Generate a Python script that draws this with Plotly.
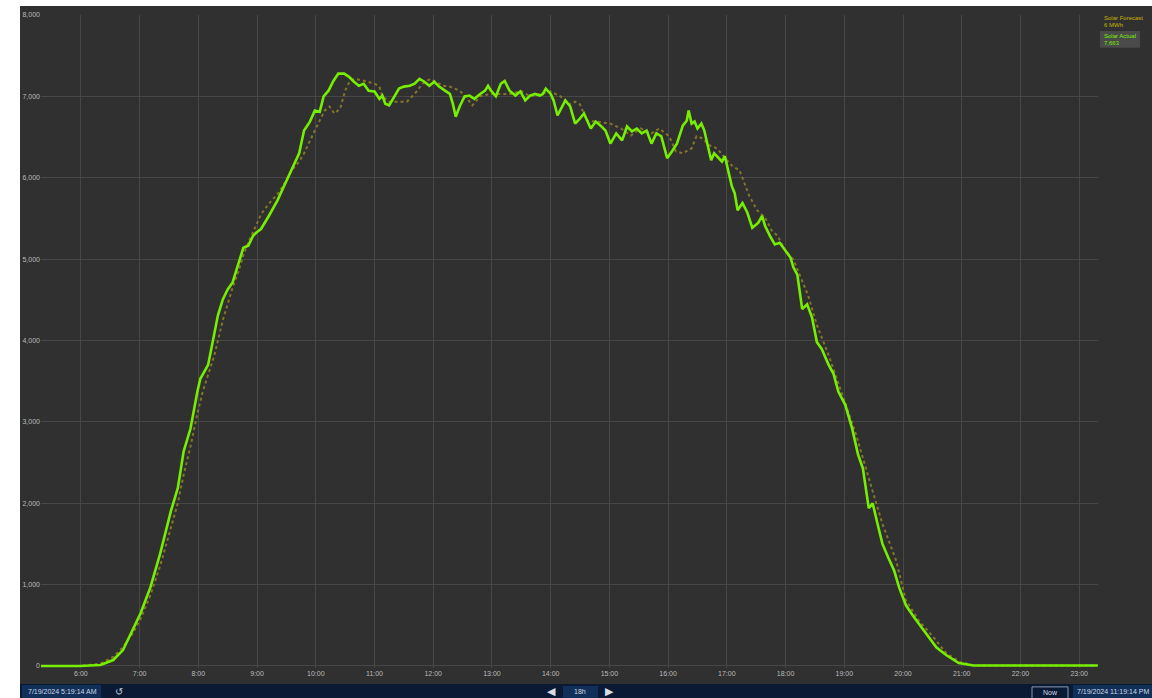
import plotly.graph_objects as go

DAY = "2024-07-19"

# Solar actual (MW)
actual_times = [
    "05:19", "05:59", "06:20", "06:33", "06:43", "06:53", "07:01", "07:11", "07:21", "07:32",
    "07:39", "07:45", "07:52", "07:59", "08:02", "08:10", "08:16", "08:20", "08:25", "08:30",
    "08:35", "08:41", "08:46", "08:51", "08:56", "08:59", "09:04", "09:12", "09:21", "09:29",
    "09:36", "09:43", "09:48", "09:54", "09:59", "10:04", "10:08", "10:13", "10:18", "10:23",
    "10:29", "10:34", "10:39", "10:44", "10:49", "10:54", "11:00", "11:05", "11:08", "11:11",
    "11:15", "11:20", "11:25", "11:30", "11:36", "11:41", "11:46", "11:51", "11:56", "12:01",
    "12:06", "12:12", "12:17", "12:20", "12:23", "12:27", "12:32", "12:37", "12:42", "12:48",
    "12:53", "12:56", "12:59", "13:04", "13:09", "13:13", "13:18", "13:24", "13:29", "13:34",
    "13:39", "13:44", "13:49", "13:52", "13:55", "14:00", "14:03", "14:07", "14:12", "14:15",
    "14:20", "14:25", "14:30", "14:34", "14:41", "14:46", "14:51", "14:56", "15:01", "15:07",
    "15:13", "15:18", "15:23", "15:28", "15:33", "15:38", "15:43", "15:48", "15:53", "15:59",
    "16:04", "16:09", "16:15", "16:19", "16:21", "16:24", "16:27", "16:30", "16:34", "16:37",
    "16:40", "16:44", "16:47", "16:50", "16:55", "16:58", "17:01", "17:05", "17:08", "17:11",
    "17:16", "17:21", "17:26", "17:32", "17:36", "17:39", "17:44", "17:49", "17:54", "17:59",
    "18:05", "18:08", "18:12", "18:17", "18:22", "18:27", "18:32", "18:37", "18:44", "18:49",
    "18:54", "19:01", "19:08", "19:14", "19:19", "19:25", "19:29", "19:34", "19:39", "19:45",
    "19:51", "19:56", "20:03", "20:10", "20:16", "20:23", "20:34", "20:44", "20:57", "21:12",
    "23:19",
]
actual_mw = [
    0, 0, 12, 73, 195, 440, 647, 965, 1380, 1905,
    2185, 2637, 2918, 3370, 3529, 3700, 4066, 4310, 4505, 4628,
    4713, 4957, 5140, 5165, 5287, 5323, 5370, 5530, 5725, 5935,
    6120, 6300, 6580, 6690, 6825, 6810, 7000, 7070, 7190, 7280,
    7280, 7240, 7180, 7130, 7155, 7070, 7060, 6970, 7010, 6910,
    6890, 7000, 7095, 7120, 7130, 7155, 7215, 7180, 7130, 7180,
    7120, 7070, 7030, 6910, 6750, 6875, 7000, 7010, 6970, 7030,
    7070, 7130, 7070, 7000, 7155, 7190, 7070, 7010, 7060, 6950,
    7010, 7030, 7010, 7030, 7095, 7030, 6950, 6765, 6875, 6950,
    6875, 6665, 6730, 6790, 6605, 6690, 6640, 6580, 6420, 6545,
    6460, 6630, 6570, 6605, 6545, 6580, 6420, 6545, 6510, 6240,
    6325, 6420, 6640, 6700, 6825, 6665, 6690, 6605, 6665, 6580,
    6420, 6215, 6300, 6265, 6200, 6265, 6090, 5900, 5810, 5600,
    5690, 5570, 5385, 5445, 5530, 5410, 5285, 5180, 5200, 5115,
    5020, 4900, 4810, 4385, 4445, 4285, 3980, 3895, 3700, 3590,
    3370, 3210, 2920, 2600, 2430, 1940, 2000, 1745, 1500, 1330,
    1170, 965, 745, 620, 525, 400, 230, 135, 35, 5,
    5,
]

# Solar forecast (MW)
forecast_times = [
    "05:19", "06:00", "06:20", "06:33", "06:43", "06:53", "07:01", "07:11", "07:21", "07:32",
    "07:39", "07:45", "07:52", "07:59", "08:04", "08:10", "08:16", "08:20", "08:25", "08:30",
    "08:35", "08:41", "08:46", "08:51", "08:56", "09:04", "09:12", "09:21", "09:29", "09:36",
    "09:43", "09:48", "09:59", "10:09", "10:14", "10:19", "10:25", "10:30", "10:35", "10:40",
    "10:50", "11:00", "11:05", "11:08", "11:15", "11:25", "11:33", "11:41", "11:49", "11:57",
    "12:02", "12:10", "12:17", "12:27", "12:33", "12:40", "12:48", "12:58", "13:11", "13:21",
    "13:29", "13:39", "13:49", "14:00", "14:10", "14:19", "14:25", "14:30", "14:37", "14:47",
    "15:01", "15:12", "15:22", "15:32", "15:43", "15:51", "16:01", "16:08", "16:15", "16:24",
    "16:29", "16:35", "16:42", "16:50", "17:00", "17:06", "17:13", "17:18", "17:23", "17:31",
    "17:39", "17:46", "17:52", "17:59", "18:08", "18:23", "18:32", "18:44", "18:58", "19:12",
    "19:25", "19:39", "19:53", "20:03", "20:16", "20:31", "20:44", "20:58", "21:12", "23:19",
]
forecast_mw = [
    0, 0, 30, 110, 230, 400, 580, 870, 1230, 1700,
    2000, 2350, 2700, 3100, 3350, 3580, 3800, 4000, 4250, 4450,
    4650, 4850, 5050, 5200, 5330, 5550, 5680, 5800, 5950, 6100,
    6200, 6300, 6580, 6825, 6875, 6790, 6850, 7070, 7190, 7215,
    7190, 7155, 7120, 7000, 6935, 6935, 6935, 7030, 7155, 7215,
    7180, 7130, 7120, 7070, 7000, 6890, 7000, 7030, 7030, 7030,
    7070, 7000, 7030, 7060, 7000, 6900, 6935, 6900, 6700, 6690,
    6665, 6605, 6520, 6605, 6545, 6605, 6510, 6325, 6300, 6360,
    6510, 6485, 6400, 6360, 6215, 6140, 6090, 5935, 5775, 5600,
    5510, 5350, 5285, 5115, 4995, 4555, 4190, 3820, 3335, 2845,
    2310, 1745, 1295, 805, 560, 355, 160, 50, 5, 5,
]

y_ticks = [0, 1000, 2000, 3000, 4000, 5000, 6000, 7000, 8000]

BG = "#303030"
GRID = "#474747"
NAVY = "#0a1a35"
BOX = "#10305a"

# plot area in pixels: left 41, right 1098, top 11, bottom 668
L, R, T, B = 41, 1098, 11, 668


def px(x):
    return (x - L) / (R - L)


def py(y):
    return (B - y) / (B - T)


fig = go.Figure()

fig.add_trace(go.Scatter(
    x=[f"{DAY} {t}" for t in forecast_times],
    y=forecast_mw,
    mode="lines",
    name="Solar Forecast",
    line=dict(color="#85752a", width=2, dash="dot"),
))

fig.add_trace(go.Scatter(
    x=[f"{DAY} {t}" for t in actual_times],
    y=actual_mw,
    mode="lines",
    name="Solar Actual",
    line=dict(color="#76ee00", width=2.6),
))

shapes = [
    # white strip on the left
    dict(type="rect", xref="paper", yref="paper", x0=px(-5), x1=px(20), y0=py(705), y1=py(-5),
         fillcolor="white", line=dict(width=0), layer="above"),
    # thin white strip on top
    dict(type="rect", xref="paper", yref="paper", x0=px(-5), x1=px(1160), y0=py(2), y1=py(-5),
         fillcolor="white", line=dict(width=0), layer="above"),
    # bottom navigation bar
    dict(type="rect", xref="paper", yref="paper", x0=px(20), x1=px(1160), y0=py(705), y1=py(684),
         fillcolor=NAVY, line=dict(width=0), layer="above"),
    dict(type="rect", xref="paper", yref="paper", x0=px(22), x1=px(101), y0=py(705), y1=py(685),
         fillcolor=BOX, line=dict(width=0), layer="above"),
    dict(type="rect", xref="paper", yref="paper", x0=px(563), x1=px(598), y0=py(705), y1=py(686),
         fillcolor=BOX, line=dict(width=0), layer="above"),
    dict(type="rect", xref="paper", yref="paper", x0=px(1032), x1=px(1068), y0=py(705), y1=py(687),
         fillcolor=NAVY, line=dict(color="#8a9ab0", width=1), layer="above"),
    dict(type="rect", xref="paper", yref="paper", x0=px(1073), x1=px(1160), y0=py(705), y1=py(685),
         fillcolor=BOX, line=dict(width=0), layer="above"),
    # legend highlight box
    dict(type="rect", xref="paper", yref="paper", x0=px(1100), x1=px(1140), y0=py(44), y1=py(27),
         fillcolor="#4a4a4a", line=dict(width=0), layer="above"),
]

small = dict(family="Arial", size=7)


def note(x, y, text, color, size=7, anchor="left"):
    return dict(xref="paper", yref="paper", x=px(x), y=py(y), text=text, showarrow=False,
                xanchor=anchor, yanchor="middle", font=dict(family="Arial", size=size, color=color))


annotations = [
    note(1102, 14, "Solar Forecast", "#c8b400", 6),
    note(1102, 21, "6 MWh", "#c8b400", 6),
    note(1102, 32, "Solar Actual", "#76ee00", 6),
    note(1102, 39, "7,663", "#76ee00", 6),
    note(62, 692, "7/19/2024 5:19:14 AM", "#d0d8e0", 7, "center"),
    note(119, 692, "↺", "#c0c8d0", 10, "center"),
    note(551, 691, "◀", "#d8dde4", 11, "center"),
    note(580, 692, "18h", "#d0d8e0", 7, "center"),
    note(609, 691, "▶", "#d8dde4", 11, "center"),
    note(1050, 693, "Now", "#d0d8e0", 7, "center"),
    note(1113, 692, "7/19/2024 11:19:14 PM", "#d0d8e0", 7, "center"),
]

fig.update_layout(
    width=1152,
    height=698,
    margin=dict(l=L, r=1152 - R, t=T, b=698 - B),
    paper_bgcolor=BG,
    plot_bgcolor=BG,
    showlegend=False,
    shapes=shapes,
    annotations=annotations,
    xaxis=dict(
        type="date",
        range=[f"{DAY} 05:19:14", f"{DAY} 23:19:14"],
        tick0=f"{DAY} 06:00",
        dtick=3600000,
        tickformat="%-H:%M",
        showgrid=True,
        gridcolor=GRID,
        gridwidth=1,
        zeroline=False,
        showline=False,
        ticks="",
        tickfont=dict(small, color="#bbbbbb"),
    ),
    yaxis=dict(
        range=[-25, 8000],
        tickvals=y_ticks,
        tickformat=",d",
        showgrid=True,
        gridcolor=GRID,
        gridwidth=1,
        zeroline=False,
        showline=False,
        ticks="",
        tickfont=dict(small, color="#bbbbbb"),
    ),
)

# page margin off so the figure fills the window
fig.write_html(
    "out.html",
    config={"displayModeBar": False},
    post_script="document.body.style.margin='0';document.body.style.overflow='hidden';",
)
